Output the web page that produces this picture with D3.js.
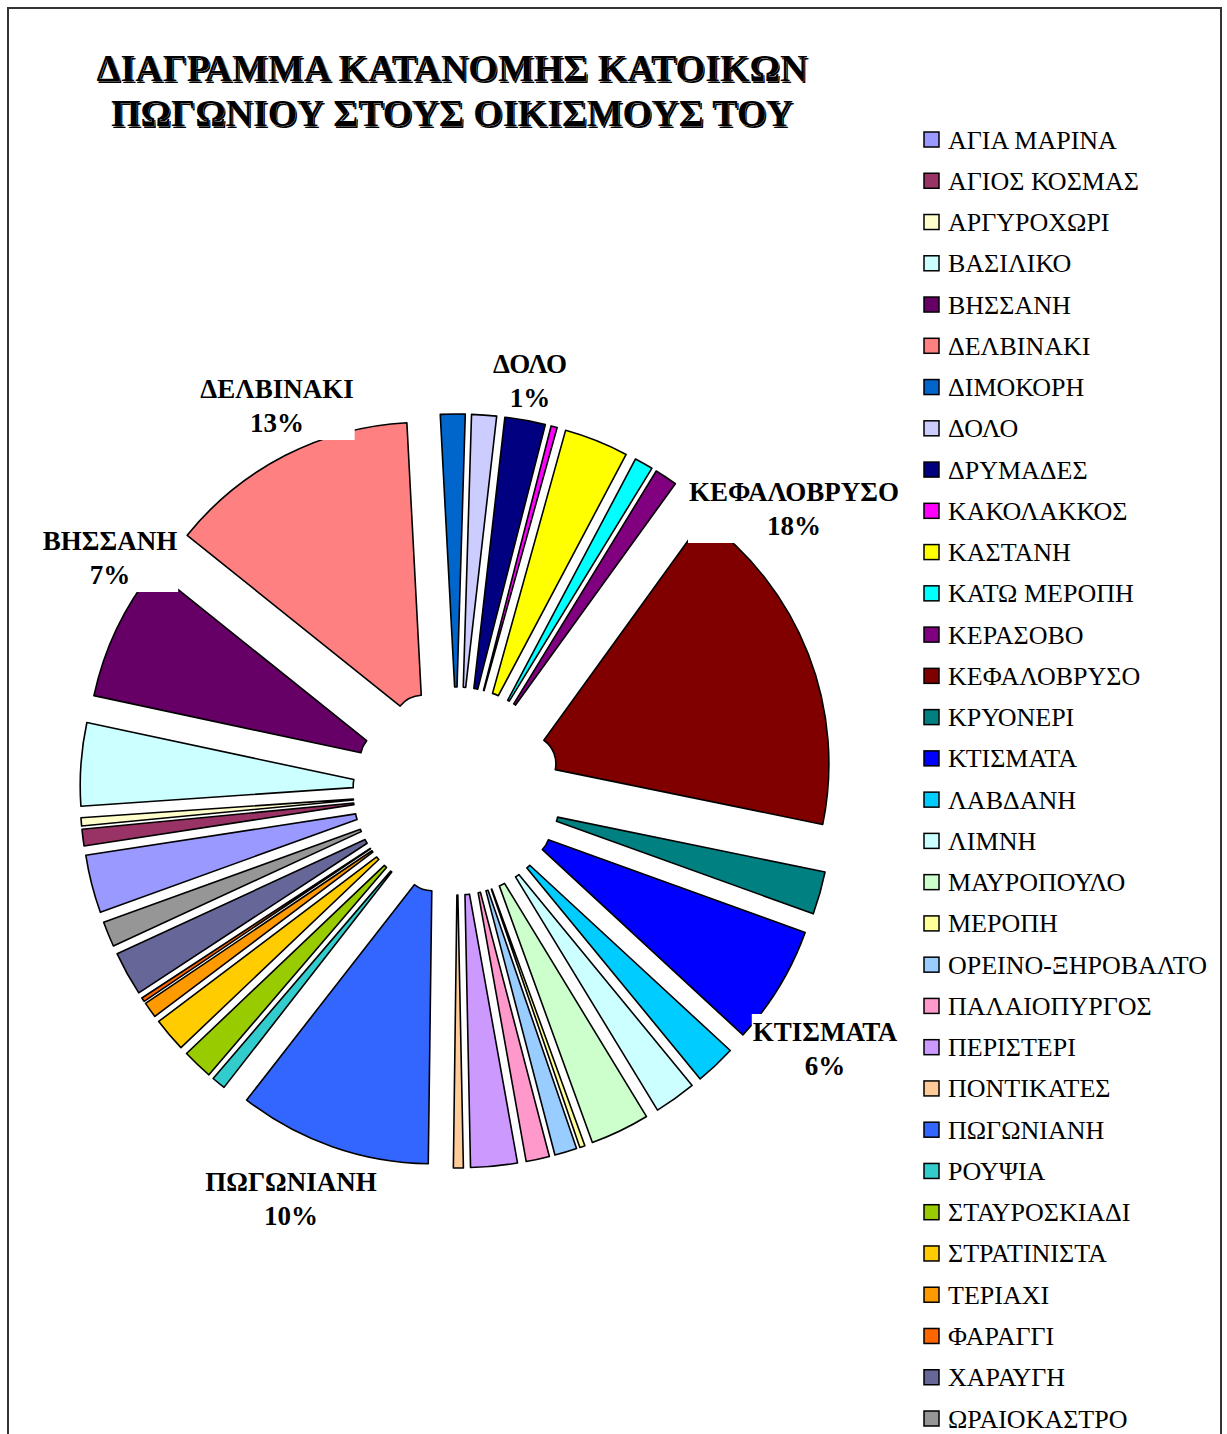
<!DOCTYPE html>
<html lang="el">
<head>
<meta charset="UTF-8">
<title>ΔΙΑΓΡΑΜΜΑ ΚΑΤΑΝΟΜΗΣ ΚΑΤΟΙΚΩΝ</title>
<script src="https://d3js.org/d3.v7.min.js"></script>
<style>
    body { margin: 0; background: #fff; }
    text { font-family: "Liberation Serif", "Times New Roman", serif; }
    .slice { stroke: #000; stroke-width: 1.6; stroke-linejoin: round; }
    .title { font-size: 38px; font-weight: bold; }
    .lbl { font-size: 27px; font-weight: bold; }
    .leg { font-size: 26px; }
</style>
</head>
<body>
<svg id="chart" width="1227" height="1434"></svg>
<script>
    // villages, in the order Excel drew them (legend order)
    const villages = ["ΑΓΙΑ ΜΑΡΙΝΑ", "ΑΓΙΟΣ ΚΟΣΜΑΣ", "ΑΡΓΥΡΟΧΩΡΙ", "ΒΑΣΙΛΙΚΟ", "ΒΗΣΣΑΝΗ",
        "ΔΕΛΒΙΝΑΚΙ", "ΔΙΜΟΚΟΡΗ", "ΔΟΛΟ", "ΔΡΥΜΑΔΕΣ", "ΚΑΚΟΛΑΚΚΟΣ", "ΚΑΣΤΑΝΗ", "ΚΑΤΩ ΜΕΡΟΠΗ",
        "ΚΕΡΑΣΟΒΟ", "ΚΕΦΑΛΟΒΡΥΣΟ", "ΚΡΥΟΝΕΡΙ", "ΚΤΙΣΜΑΤΑ", "ΛΑΒΔΑΝΗ", "ΛΙΜΝΗ", "ΜΑΥΡΟΠΟΥΛΟ",
        "ΜΕΡΟΠΗ", "ΟΡΕΙΝΟ-ΞΗΡΟΒΑΛΤΟ", "ΠΑΛΑΙΟΠΥΡΓΟΣ", "ΠΕΡΙΣΤΕΡΙ", "ΠΟΝΤΙΚΑΤΕΣ", "ΠΩΓΩΝΙΑΝΗ",
        "ΡΟΥΨΙΑ", "ΣΤΑΥΡΟΣΚΙΑΔΙ", "ΣΤΡΑΤΙΝΙΣΤΑ", "ΤΕΡΙΑΧΙ", "ΦΑΡΑΓΓΙ", "ΧΑΡΑΥΓΗ", "ΩΡΑΙΟΚΑΣΤΡΟ"];

    // share of residents, %
    const shares = [3.11, 0.89, 0.44, 4.44, 7.40, 13.40, 1.32, 1.33, 2.17, 0.33, 3.44, 0.99,
        1.21, 18.26, 2.29, 6.36, 2.18, 2.24, 3.17, 0.28, 1.19, 1.25, 2.49, 0.53, 10.32,
        0.74, 1.63, 1.81, 0.85, 0.21, 2.35, 1.35];

    const colours = ["#9999FF", "#993366", "#FFFFCC", "#CCFFFF", "#660066", "#FF8080", "#0066CC",
        "#CCCCFF", "#000080", "#FF00FF", "#FFFF00", "#00FFFF", "#800080", "#800000", "#008080",
        "#0000FF", "#00CCFF", "#CCFFFF", "#CCFFCC", "#FFFF99", "#99CCFF", "#FF99CC", "#CC99FF",
        "#FFCC99", "#3366FF", "#33CCCC", "#99CC00", "#FFCC00", "#FF9900", "#FF6600", "#666699",
        "#969696"];

    // slices that carry a data label
    const labelled = ["ΔΟΛΟ", "ΔΕΛΒΙΝΑΚΙ", "ΒΗΣΣΑΝΗ", "ΚΕΦΑΛΟΒΡΥΣΟ", "ΚΤΙΣΜΑΤΑ", "ΠΩΓΩΝΙΑΝΗ"];

    const titleLines = ["ΔΙΑΓΡΑΜΜΑ ΚΑΤΑΝΟΜΗΣ ΚΑΤΟΙΚΩΝ", "ΠΩΓΩΝΙΟΥ ΣΤΟΥΣ ΟΙΚΙΣΜΟΥΣ ΤΟΥ"];

    // layout
    const cx = 457, cy = 791;
    const rIn = 29, rOut = 302, explode = 75;
    const firstAngle = 250.1;   // degrees, clockwise from 12 o'clock
    // labels were dragged by hand in the original, offsets from pie centre
    const labelOffset = {
        "ΔΟΛΟ": [73, -418],
        "ΔΕΛΒΙΝΑΚΙ": [-180, -393],
        "ΒΗΣΣΑΝΗ": [-347, -241],
        "ΚΕΦΑΛΟΒΡΥΣΟ": [337, -290],
        "ΚΤΙΣΜΑΤΑ": [368, 250],
        "ΠΩΓΩΝΙΑΝΗ": [-166, 400]
    };

    const svg = d3.select("#chart");

    // chart area frame
    svg.append("rect")
        .attr("x", 8).attr("y", 8)
        .attr("width", 1213).attr("height", 1460)
        .attr("fill", "#fff")
        .attr("stroke", "#333")
        .attr("stroke-width", 2);

    // title with a light drop shadow
    const title = svg.append("g");
    [[1.5, 1.5], [0, 0]].forEach(function (s) {
        title.selectAll(null)
            .data(titleLines)
            .join("text")
            .attr("class", "title")
            .attr("x", 452 + s[0])
            .attr("y", (d, i) => 81 + i * 45 + s[1])
            .attr("text-anchor", "middle")
            .attr("fill", "#000")
            .attr("stroke", s[0] ? "none" : "#fff")
            .attr("stroke-width", s[0] ? 0 : 0.5)
            .attr("paint-order", "stroke")
            .text(d => d);
    });

    const data = villages.map((v, i) => ({name: v, value: shares[i], colour: colours[i]}));
    const total = d3.sum(shares);
    const pct = d3.format(".0%");

    const start = firstAngle * Math.PI / 180;
    const pie = d3.pie().sort(null).value(d => d.value)
        .startAngle(start).endAngle(start + 2 * Math.PI);
    const arc = d3.arc().innerRadius(rIn).outerRadius(rOut);

    const arcs = pie(data);
    const pieG = svg.append("g").attr("transform", `translate(${cx},${cy})`);

    pieG.selectAll("path")
        .data(arcs)
        .join("path")
        .attr("class", "slice")
        .attr("fill", d => d.data.colour)
        .attr("transform", function (d) {
            const m = (d.startAngle + d.endAngle) / 2;
            return `translate(${explode * Math.sin(m)},${-explode * Math.cos(m)})`;
        })
        .attr("d", arc);

    // data labels with white background boxes
    const lblG = pieG.selectAll("g.label")
        .data(arcs.filter(d => labelled.includes(d.data.name)))
        .join("g")
        .attr("class", "label")
        .attr("transform", d => `translate(${labelOffset[d.data.name][0]},${labelOffset[d.data.name][1]})`);

    const box = lblG.append("rect").attr("fill", "#fff");
    lblG.append("text").attr("class", "lbl").attr("text-anchor", "middle")
        .text(d => d.data.name);
    lblG.append("text").attr("class", "lbl").attr("text-anchor", "middle")
        .attr("y", 34)
        .text(d => pct(d.data.value / total));
    box.each(function () {
        const b = this.parentNode.getBBox();
        d3.select(this)
            .attr("x", b.x - 1).attr("y", -27)
            .attr("width", b.width + 2).attr("height", 27 + 34 + 8);
    });

    // legend
    const rowY = d3.scalePoint().domain(villages).range([140, 1419]);
    const leg = svg.append("g").selectAll("g")
        .data(data)
        .join("g")
        .attr("transform", d => `translate(924,${rowY(d.name)})`);
    leg.append("rect")
        .attr("x", 0).attr("y", -8)
        .attr("width", 15).attr("height", 15)
        .attr("fill", d => d.colour)
        .attr("stroke", "#000")
        .attr("stroke-width", 1.5);
    leg.append("text")
        .attr("class", "leg")
        .attr("x", 24).attr("y", 8.5)
        .text(d => d.name);
</script>
</body>
</html>
